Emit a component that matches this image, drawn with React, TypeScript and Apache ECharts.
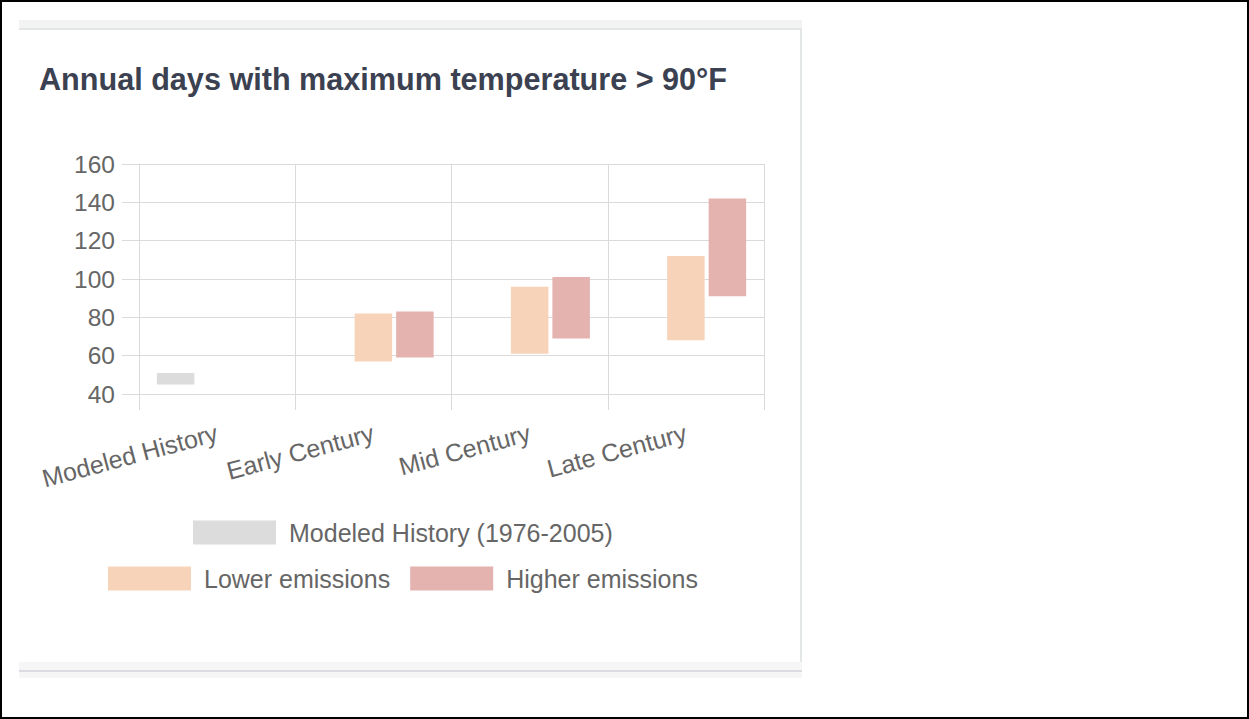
import React, { useEffect, useRef } from "react";
import * as echarts from "echarts";

const categories = ["Modeled History", "Early Century", "Mid Century", "Late Century"];
const historyMin = [45, null, null, null];
const historyMax = [51, null, null, null];
const lowerMin = [null, 57, 61, 68];
const lowerMax = [null, 82, 96, 112];
const higherMin = [null, 59, 69, 91];
const higherMax = [null, 83, 101, 142];
const yTicks = { min: 40, max: 160, interval: 20 };

const FONT = "'Liberation Sans', Arial, Helvetica, sans-serif";
const GRID = "#dadada";

function range(mins: (number | null)[], maxs: (number | null)[]) {
  return mins.map((m, i) => (m == null || maxs[i] == null ? "-" : (maxs[i] as number) - m));
}
function base(mins: (number | null)[]) {
  return mins.map((m) => (m == null ? "-" : m));
}

export default function App() {
  const ref = useRef<HTMLDivElement>(null);
  useEffect(() => {
    if (!ref.current) return;
    const chart = echarts.init(ref.current, null, { renderer: "svg" });
    const baseStyle = { color: "rgba(0,0,0,0)" };
    const mk = (name: string, stack: string, mins: any[], maxs: any[], color: string) => [
      {
        type: "bar",
        stack,
        data: base(mins),
        itemStyle: baseStyle,
        barWidth: 37.5,
        barGap: "10.7%",
        silent: true,
      },
      {
        type: "bar",
        name,
        stack,
        data: range(mins, maxs),
        itemStyle: { color },
        barWidth: 37.5,
        barGap: "10.7%",
      },
    ];
    const legendText = { fontSize: 25, color: "#666", fontFamily: FONT, padding: [0, 0, 0, 8] };
    chart.setOption({
      animation: false,
      textStyle: { fontFamily: FONT },
      title: {
        text: "Annual days with maximum temperature > 90°F",
        left: 34,
        top: 58,
        textStyle: { fontFamily: FONT, fontSize: 30.6, fontWeight: "bold", color: "#3b4150" },
      },
      legend: [
        {
          data: ["Modeled History (1976-2005)"],
          left: 188,
          top: 515,
          itemWidth: 83,
          itemHeight: 24,
          icon: "rect",
          selectedMode: false,
          textStyle: legendText,
        },
        {
          data: ["Lower emissions", "Higher emissions"],
          left: 103,
          top: 561,
          itemWidth: 83,
          itemHeight: 24,
          itemGap: 20,
          icon: "rect",
          selectedMode: false,
          textStyle: legendText,
        },
      ],
      grid: { left: 139, right: 1249 - 764, top: 164, bottom: 719 - 394, containLabel: false },
      xAxis: {
        type: "category",
        data: categories,
        axisLine: { show: true, lineStyle: { color: GRID, width: 1 } },
        axisTick: { show: true, length: 16, lineStyle: { color: GRID } },
        splitLine: { show: true, lineStyle: { color: GRID, width: 1 } },
        axisLabel: { rotate: 15, margin: 38, fontSize: 25, color: "#666", fontFamily: FONT },
      },
      yAxis: {
        type: "value",
        min: yTicks.min,
        max: yTicks.max,
        interval: yTicks.interval,
        axisLine: { show: true, lineStyle: { color: GRID } },
        axisTick: { show: true, length: 17, lineStyle: { color: GRID } },
        splitLine: { show: true, lineStyle: { color: GRID, width: 1 } },
        axisLabel: { margin: 24, fontSize: 24.5, color: "#666", fontFamily: FONT },
      },
      series: [
        ...mk("Modeled History (1976-2005)", "hist", historyMin, historyMax, "#dcdcdc"),
        ...mk("Lower emissions", "low", lowerMin, lowerMax, "#f6d3b9"),
        ...mk("Higher emissions", "high", higherMin, higherMax, "#e4b3b0"),
      ],
    });
    return () => chart.dispose();
  }, []);

  return (
    <div style={{ position: "fixed", left: 0, top: 0, width: 1249, height: 719, background: "#fff", overflow: "hidden" }}>
      <div style={{ position: "absolute", left: 19, top: 20, width: 783, height: 8, background: "#f3f3f3" }} />
      <div style={{ position: "absolute", left: 19, top: 28, width: 783, height: 2, background: "#e4e7e7" }} />
      <div style={{ position: "absolute", left: 800, top: 28, width: 2, height: 644, background: "#e3e8e6" }} />
      <div style={{ position: "absolute", left: 19, top: 662, width: 783, height: 16, background: "#f6f6f6" }} />
      <div style={{ position: "absolute", left: 19, top: 670, width: 783, height: 2, background: "#dcdbe2" }} />
      <div ref={ref} style={{ position: "absolute", left: 0, top: 0, width: 1249, height: 719 }} />
      <div style={{ position: "absolute", left: 0, top: 0, width: 1249, height: 719, boxSizing: "border-box", border: "2px solid #000", pointerEvents: "none" }} />
    </div>
  );
}
